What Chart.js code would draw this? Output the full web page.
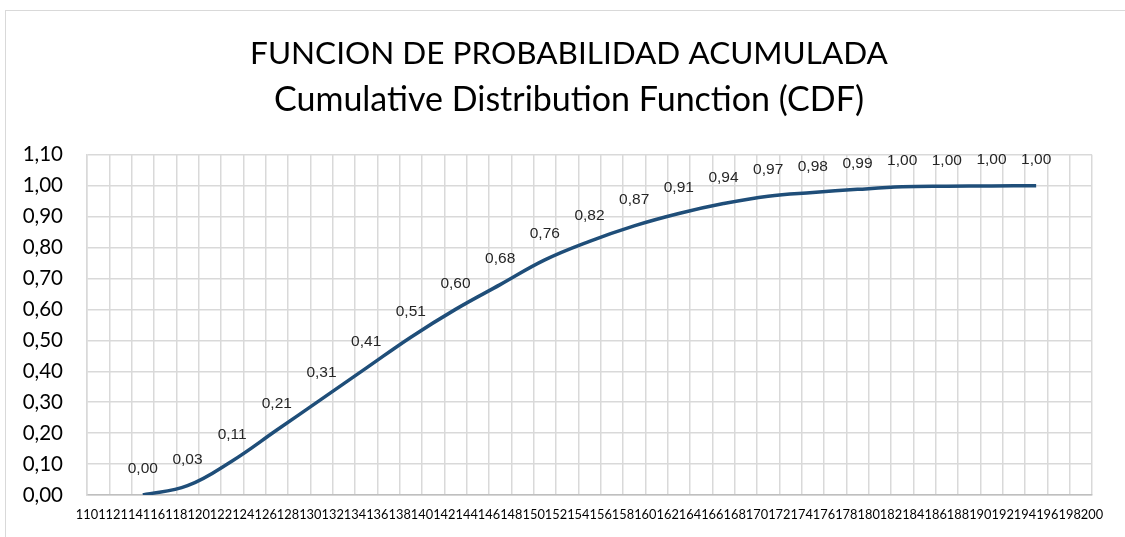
<!DOCTYPE html>
<html>
<head>
<meta charset="utf-8">
<script src="https://cdn.jsdelivr.net/npm/chart.js@4.4.1/dist/chart.umd.min.js"></script>
<style>
  html, body { margin: 0; padding: 0; background: #fff; overflow: hidden; }
  #frame { position: absolute; left: 5px; top: 10px; width: 1200px; height: 600px;
           border-left: 1.5px solid #d9d9d9; border-top: 1.5px solid #d9d9d9; }
  #wrap { position: absolute; left: 0; top: 0; width: 1138px; height: 537px; }
</style>
</head>
<body>
<div id="frame"></div>
<div id="wrap"><canvas id="cdf"></canvas></div>
<script>
// valores
const xValues = [115, 119, 123, 127, 131, 135, 139, 143, 147, 151, 155, 159, 163, 167, 171, 175, 179, 183, 187, 191, 195];
const cdfValues = [0.00, 0.03, 0.11, 0.21, 0.31, 0.41, 0.51, 0.60, 0.68, 0.76, 0.82, 0.87, 0.91, 0.942, 0.966, 0.978, 0.988, 0.996, 0.998, 0.999, 1.00];
const titleText = 'FUNCION DE PROBABILIDAD ACUMULADA';
const subtitleText = 'Cumulative Distribution Function (CDF)';
const xMin = 110, xMax = 200, xStep = 2;
const yMin = 0, yMax = 1.1, yStep = 0.1;

const fmt = v => v.toFixed(2).replace('.', ',');

// etiquetas de datos encima de cada punto
const pointLabels = {
  id: 'pointLabels',
  afterDatasetsDraw(chart) {
    const ctx = chart.ctx;
    const meta = chart.getDatasetMeta(0);
    ctx.save();
    ctx.font = '15.5px "Liberation Sans", Arial, sans-serif';
    ctx.fillStyle = '#262626';
    ctx.textAlign = 'center';
    ctx.textBaseline = 'middle';
    meta.data.forEach((pt, i) => {
      ctx.fillText(fmt(cdfValues[i]), pt.x, pt.y - 26);
    });
    ctx.restore();
  }
};

new Chart(document.getElementById('cdf').getContext('2d'), {
  type: 'line',
  data: {
    datasets: [{
      label: 'CDF',
      data: xValues.map((x, i) => ({ x, y: cdfValues[i] })),
      borderColor: '#1f4e79',
      borderWidth: 3.5,
      pointRadius: 0,
      tension: 0.4,
      fill: false,
    }],
  },
  options: {
    responsive: true, maintainAspectRatio: false, animation: false,
    plugins: {
      legend: { display: false },
      tooltip: { enabled: false },
      title: {
        display: true, text: titleText, color: '#000',
        font: { family: 'Lato, "Open Sans", sans-serif', size: 31.5, weight: 'normal', lineHeight: 1.4 },
        padding: { top: 32, bottom: 0 },
      },
      subtitle: {
        display: true, text: subtitleText, color: '#000',
        font: { family: 'Lato, "Open Sans", sans-serif', size: 34, weight: 'normal', lineHeight: 1.4 },
        padding: { top: 0, bottom: 31 },
      },
    },
    scales: {
      x: {
        type: 'linear', min: xMin, max: xMax,
        ticks: {
          stepSize: xStep, autoSkip: false, maxRotation: 0, minRotation: 0,
          color: '#000', padding: 12,
          font: { family: 'Lato, sans-serif', size: 12.8 },
        },
        grid: { color: '#d9d9d9', lineWidth: 1.5, drawTicks: false },
        border: { color: '#bfbfbf', width: 1.5 },
        afterFit(scale) { scale.height = 42; },
      },
      y: {
        min: yMin, max: yMax,
        ticks: {
          stepSize: yStep, color: '#000', padding: 24,
          font: { family: 'Lato, sans-serif', size: 20.5 },
          callback: v => fmt(v),
        },
        grid: { color: '#d9d9d9', lineWidth: 1.5, drawTicks: false },
        border: { color: '#d9d9d9', width: 1.5 },
        afterFit(scale) { scale.width = 87; },
      },
      // espacio a la derecha del área de trazado
      yRight: {
        position: 'right', min: yMin, max: yMax,
        ticks: { display: false }, grid: { display: false }, border: { display: false },
        afterFit(scale) { scale.width = 46; },
      },
    },
  },
  plugins: [pointLabels],
});
</script>
</body>
</html>
